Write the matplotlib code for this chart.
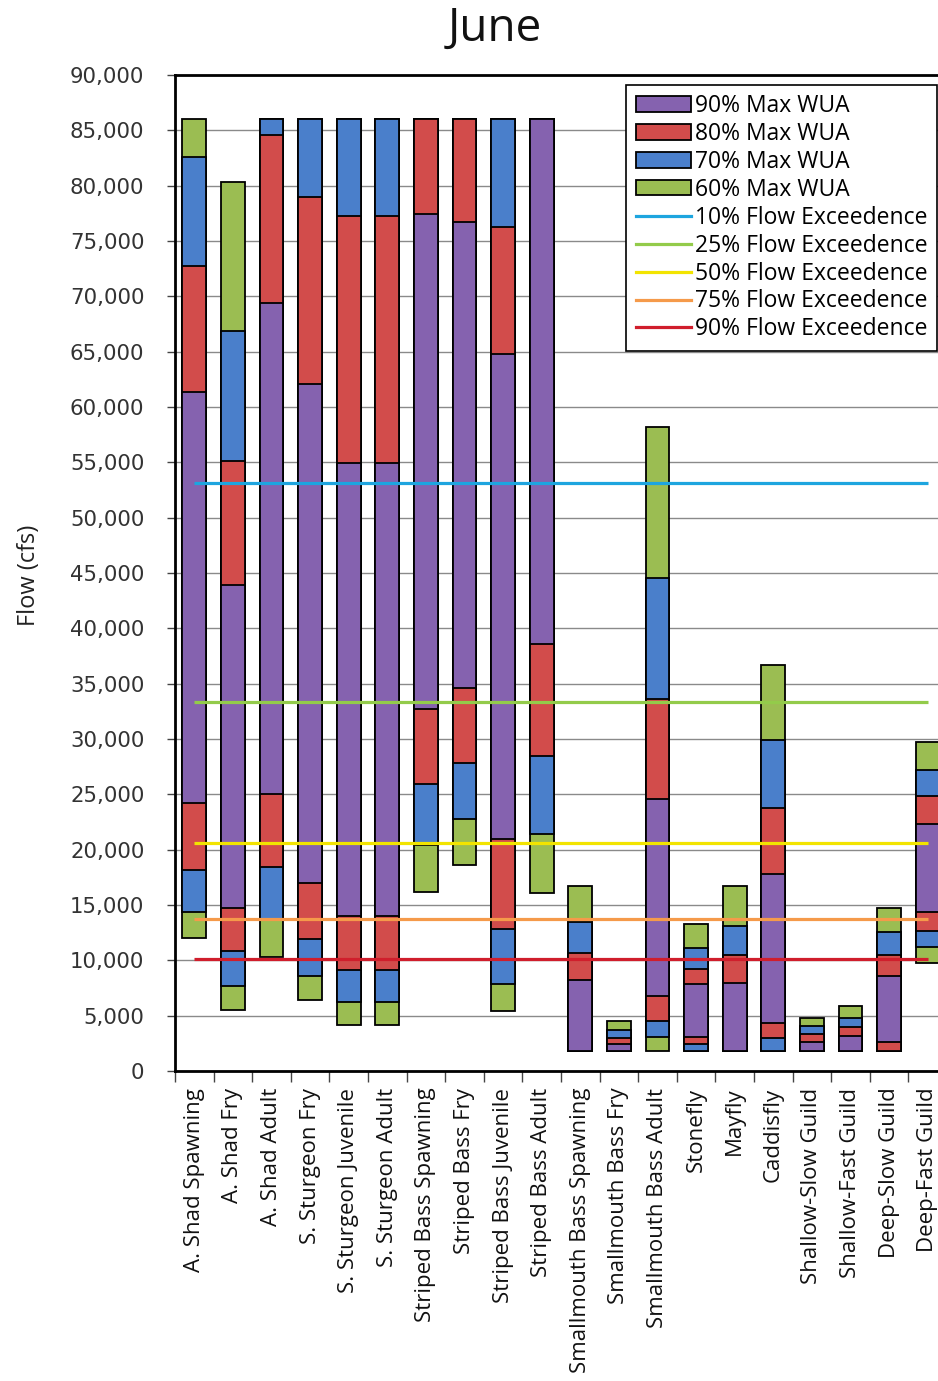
import matplotlib
matplotlib.use("Agg")
import matplotlib.pyplot as plt
import numpy as np
from matplotlib.patches import Patch
from matplotlib.lines import Line2D
from matplotlib.ticker import FuncFormatter, MultipleLocator, FixedLocator

# ---------------- data ----------------
categories = [
    "A. Shad Spawning", "A. Shad Fry", "A. Shad Adult", "S. Sturgeon Fry",
    "S. Sturgeon Juvenile", "S. Sturgeon Adult", "Striped Bass Spawning",
    "Striped Bass Fry", "Striped Bass Juvenile", "Striped Bass Adult",
    "Smallmouth Bass Spawning", "Smallmouth Bass Fry", "Smallmouth Bass Adult",
    "Stonefly", "Mayfly", "Caddisfly", "Shallow-Slow Guild",
    "Shallow-Fast Guild", "Deep-Slow Guild", "Deep-Fast Guild",
]

# flow ranges (cfs) where habitat >= X% of max WUA: lower / upper bounds
lo60 = [12000, 5550, 10300, 6400, 4150, 4150, 16200, 18600, 5400, 16100,
        1850, 1850, 1850, 1850, 1850, 1850, 1850, 1850, 1850, 9750]
hi60 = [86000, 80300, 86000, 86000, 86000, 86000, 86000, 86000, 86000, 86000,
        16700, 4550, 58150, 13250, 16700, 36670, 4780, 5880, 14750, 29750]
lo70 = [14400, 7700, 13700, 8600, 6250, 6250, 20400, 22800, 7900, 21400,
        1850, 1850, 3100, 1850, 1850, 1850, 1850, 1850, 1850, 11230]
hi70 = [82600, 66900, 86000, 86000, 86000, 86000, 86000, 86000, 86000, 86000,
        13450, 3700, 44550, 11100, 13100, 29920, 4050, 4830, 12550, 27200]
lo80 = [18200, 10800, 18400, 11900, 9150, 9150, 25900, 27800, 12800, 28500,
        1850, 1850, 4550, 2440, 1850, 2950, 1850, 1850, 1850, 12680]
hi80 = [72700, 55100, 84600, 79000, 77300, 77300, 86000, 86000, 76300, 86000,
        10700, 2950, 33570, 9220, 10450, 23770, 3330, 3940, 10510, 24850]
lo90 = [24200, 14700, 25000, 17000, 14000, 14000, 32700, 34600, 21000, 38600,
        1850, 1850, 6780, 3100, 1850, 4300, 1850, 1850, 2650, 14400]
hi90 = [61400, 43900, 69400, 62100, 54900, 54900, 77400, 76700, 64800, 86000,
        8200, 2400, 24550, 7840, 7960, 17770, 2600, 3150, 8550, 22290]

exceed_labels = ["10% Flow Exceedence", "25% Flow Exceedence", "50% Flow Exceedence",
                 "75% Flow Exceedence", "90% Flow Exceedence"]
exceed_values = [53150, 33330, 20600, 13750, 10120]

wua_labels = ["90% Max WUA", "80% Max WUA", "70% Max WUA", "60% Max WUA"]

# ---------------- style ----------------
c_purple = "#8562AF"
c_red = "#D24C4B"
c_blue = "#4A7FCB"
c_green = "#9BBD52"
line_colors = ["#1DA5DF", "#93CB4A", "#F2E400", "#F59A4A", "#D01E2C"]

W, H = 938, 1381
fig = plt.figure(figsize=(W / 100, H / 100), dpi=100)
ax_left, ax_right, ax_bottom, ax_top = 175, 947, 1071, 75
ax = fig.add_axes([ax_left / W, 1 - ax_bottom / H,
                   (ax_right - ax_left) / W, (ax_bottom - ax_top) / H])

x = np.arange(len(categories))
bw = 0.62
ekw = dict(edgecolor="black", linewidth=1.3, zorder=2)
lo = [lo60, lo70, lo80, lo90]
hi = [hi60, hi70, hi80, hi90]
cols = [c_green, c_blue, c_red, c_purple]
for l, h, c in zip(lo, hi, cols):
    l = np.array(l); h = np.array(h)
    ax.bar(x, h - l, bottom=l, width=bw, color=c, **ekw)

for v, c in zip(exceed_values, line_colors):
    ax.plot(x, np.full(len(x), v), color=c, lw=2.3, zorder=4, solid_capstyle="butt")

ax.set_xlim(-0.5, len(categories) - 0.5)
ax.set_ylim(0, 90000)
ax.yaxis.set_major_locator(MultipleLocator(5000))
ax.yaxis.set_major_formatter(FuncFormatter(lambda v, p: f"{int(v):,}"))
ax.grid(axis="y", color="#8a8a8a", lw=1.0, zorder=0)
ax.set_axisbelow(True)

ax.set_xticks(x)
ax.set_xticklabels(categories, rotation=90, fontsize=16, family="Open Sans",
                   color="#111111")
ax.xaxis.set_minor_locator(FixedLocator(np.arange(-0.5, len(categories), 1.0)))
ax.tick_params(axis="x", which="major", length=0, pad=12)
ax.tick_params(axis="x", which="minor", length=8, width=1.0, color="#444444",
               direction="out")
ax.tick_params(axis="y", which="major", length=6, width=1.0, color="#444444",
               direction="out", pad=16, labelsize=15.3, labelcolor="#333333")
for lab in ax.get_yticklabels():
    lab.set_family("DejaVu Sans")

for s in ["left", "bottom", "top"]:
    ax.spines[s].set_color("black")
    ax.spines[s].set_linewidth(2.0)
ax.spines["right"].set_visible(False)

fig.text(495 / W, 1 - 29 / H, "June", ha="center", va="center",
         fontsize=33, family="Open Sans", color="#111111")
fig.text(29 / W, 1 - 575 / H, "Flow (cfs)", ha="center", va="center",
         rotation=90, fontsize=17, family="Open Sans", color="#222222")

handles = [Patch(facecolor=c, edgecolor="black", linewidth=1.3)
           for c in [c_purple, c_red, c_blue, c_green]]
handles += [Line2D([0], [0], color=c, lw=2.3) for c in line_colors]
leg = ax.legend(handles, wua_labels + exceed_labels, loc="upper right",
                bbox_to_anchor=(937 / W, 1 - 85 / H), bbox_transform=fig.transFigure,
                borderaxespad=0, fancybox=False, framealpha=1,
                prop={"family": "Open Sans", "size": 16.5},
                handlelength=2.4, handleheight=0.65, handletextpad=0.2,
                labelspacing=0.17, borderpad=0.4)
leg.get_frame().set_edgecolor("black")
leg.get_frame().set_linewidth(1.2)
leg.set_zorder(5)

fig.savefig("out.png", dpi=100)
